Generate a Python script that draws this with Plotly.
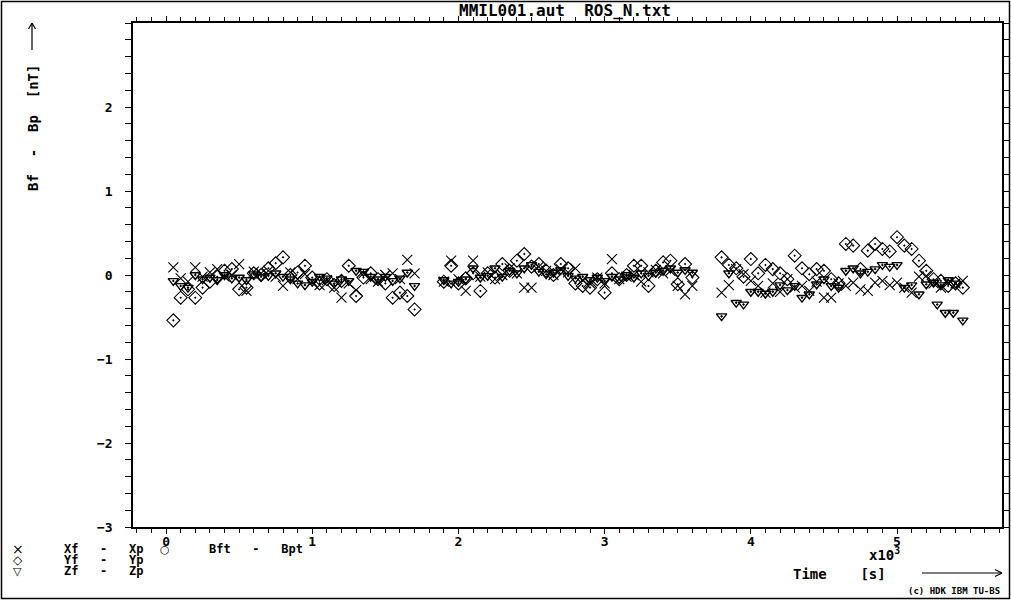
import plotly.graph_objects as go

# ---------------- data (time in s, differences in nT) ----------------
t_seg1 = [50, 100, 150, 200, 250, 300, 350, 400, 450, 500, 550, 600, 650, 700, 750, 800, 850,
          900, 950, 1000, 1050, 1100, 1150, 1200, 1250, 1300, 1350, 1400, 1450, 1500, 1550,
          1600, 1650, 1700]
t_seg2 = [1900, 1950, 2000, 2050, 2100, 2150, 2200, 2250, 2300, 2350, 2400, 2450, 2500, 2550,
          2600, 2650, 2700, 2750, 2800, 2850, 2900, 2950, 3000, 3050, 3100, 3150, 3200, 3250,
          3300, 3350, 3400, 3450, 3500, 3550, 3600]
t_seg3 = [3800, 3850, 3900, 3950, 4000, 4050, 4100, 4150, 4200, 4250, 4300, 4350, 4400, 4450,
          4500, 4550, 4600, 4650, 4700, 4750, 4800, 4850, 4900, 4950, 5000, 5050, 5100, 5150,
          5200, 5250, 5300, 5350, 5400, 5450]

dx_seg1 = [0.09, -0.04, -0.08, 0.09, -0.02, 0.03, 0.07, -0.02, 0.00, 0.13, -0.19, 0.04, 0.02,
           0.05, -0.02, -0.13, 0.03, -0.05, 0.01, -0.08, -0.12, -0.06, -0.15, -0.27, -0.10,
           -0.18, 0.02, -0.05, -0.08, 0.00, 0.02, -0.05, 0.18, 0.02]
dy_seg1 = [-0.54, -0.27, -0.17, -0.27, -0.15, -0.08, -0.02, 0.05, 0.07, -0.17, -0.15, 0.02,
           0.00, 0.08, 0.14, 0.21, 0.00, 0.03, 0.11, -0.03, -0.10, -0.05, -0.12, -0.07, 0.11,
           -0.25, -0.03, 0.02, -0.05, -0.10, -0.27, -0.21, -0.25, -0.41]
dz_seg1 = [-0.07, -0.13, -0.15, 0.00, -0.05, -0.03, -0.06, 0.00, -0.04, -0.03, -0.06, 0.01,
           -0.02, -0.01, 0.02, -0.02, -0.05, -0.10, -0.12, -0.08, -0.02, -0.04, -0.10, -0.05,
           -0.07, 0.05, 0.04, -0.02, -0.05, -0.02, -0.07, -0.04, 0.03, -0.13]

dx_seg2 = [-0.08, 0.17, -0.05, -0.19, 0.17, -0.02, 0.03, -0.05, 0.00, 0.08, 0.02, -0.15, -0.15,
           0.10, 0.05, 0.00, 0.07, 0.03, 0.08, -0.06, -0.10, -0.03, -0.10, 0.19, -0.05, -0.02,
           0.00, -0.08, 0.03, 0.06, 0.02, 0.05, -0.13, -0.23, -0.13]
dy_seg2 = [-0.08, 0.11, -0.10, -0.04, 0.02, -0.19, 0.02, -0.03, 0.13, 0.05, 0.17, 0.25, 0.10,
           0.13, 0.05, 0.00, 0.13, 0.08, -0.10, -0.13, -0.15, -0.05, -0.21, 0.02, -0.05, 0.00,
           0.11, 0.11, -0.13, 0.05, 0.15, 0.17, -0.11, 0.13, -0.03]
dz_seg2 = [-0.06, -0.10, -0.08, -0.05, 0.08, -0.03, -0.01, 0.08, -0.02, 0.05, 0.02, 0.08, 0.12,
           0.04, 0.01, 0.03, 0.06, -0.01, -0.04, -0.02, -0.06, -0.03, -0.07, -0.02, -0.05, 0.00,
           -0.03, 0.02, -0.01, 0.03, 0.05, 0.08, 0.03, 0.06, 0.03]

dx_seg3 = [-0.21, -0.12, 0.07, 0.01, -0.07, -0.13, -0.21, -0.10, -0.20, -0.05, -0.15, -0.13,
           -0.19, -0.08, -0.27, -0.27, -0.10, -0.13, -0.09, -0.17, -0.19, -0.09, -0.07, -0.12,
           -0.09, -0.15, -0.21, -0.02, -0.01, -0.10, -0.15, -0.09, -0.10, -0.07]
dy_seg3 = [0.21, 0.12, 0.08, -0.02, 0.19, 0.02, 0.12, 0.07, 0.02, -0.05, 0.23, 0.08, 0.01, 0.07,
           0.05, -0.05, -0.10, 0.37, 0.35, 0.07, 0.29, 0.37, 0.31, 0.28, 0.45, 0.35, 0.31, 0.17,
           0.05, -0.05, -0.07, -0.13, -0.10, -0.15]
dz_seg3 = [-0.49, 0.02, -0.33, -0.35, -0.20, -0.20, -0.22, -0.20, -0.12, -0.18, -0.13, -0.27,
           -0.23, -0.11, -0.05, -0.13, -0.15, 0.05, 0.08, 0.02, 0.04, 0.07, 0.12, 0.10, 0.12,
           -0.15, -0.12, -0.23, -0.11, -0.09, -0.12, -0.06, -0.10, -0.54]
t_z_extra = [5275, 5330, 5385]
dz_extra = [-0.35, -0.45, -0.45]

x_tick_vals = [0, 1000, 2000, 3000, 4000, 5000]
x_tick_text = ["0", "1", "2", "3", "4", "5"]
y_tick_vals = [-3, -2, -1, 0, 1, 2]

# ---------------- figure ----------------
W, H = 1011, 600
L, R, T, B = 133, 9, 23, 73
PW, PH = W - L - R, H - T - B
MONO = "DejaVu Sans Mono"


def P(px, py):
    return (px - L) / PW, (H - B - py) / PH


t_all = t_seg1 + t_seg2 + t_seg3

fig = go.Figure()
fig.add_trace(go.Scatter(
    x=t_all, y=dx_seg1 + dx_seg2 + dx_seg3, mode="markers", name="Xf - Xp",
    marker=dict(symbol="x-thin-open", size=10, color="black", line=dict(width=1.1, color="black"))))
fig.add_trace(go.Scatter(
    x=t_all, y=dy_seg1 + dy_seg2 + dy_seg3, mode="markers", name="Yf - Yp",
    marker=dict(symbol="diamond-open-dot", size=10, color="black", line=dict(width=1.1, color="black"))))
fig.add_trace(go.Scatter(
    x=t_all + t_z_extra, y=dz_seg1 + dz_seg2 + dz_seg3 + dz_extra, mode="markers", name="Zf - Zp",
    marker=dict(symbol="triangle-down-open-dot", size=9, color="black", line=dict(width=1.4, color="black"))))

axis_common = dict(showgrid=False, zeroline=False, showline=True, linecolor="black", linewidth=1.5,
                   mirror="ticks", ticks="outside", tickwidth=1.2, tickcolor="black", automargin=False,
                   tickfont=dict(family=MONO, size=13, color="black", weight="bold"))

fig.update_xaxes(range=[-226, 5718], tickmode="array", tickvals=x_tick_vals, ticktext=x_tick_text,
                 ticklen=5, ticklabelstandoff=-3,
                 minor=dict(dtick=100, tick0=0, ticks="outside", ticklen=4, tickwidth=1, tickcolor="black"),
                 **axis_common)
fig.update_yaxes(range=[-3, 3], tickmode="array", tickvals=y_tick_vals, ticklabelstandoff=10,
                 ticklen=6,
                 minor=dict(dtick=0.2, tick0=0, ticks="outside", ticklen=6, tickwidth=1, tickcolor="black"),
                 **axis_common)

ann = []


def text(px, py, s, size=13, xanchor="left", yanchor="middle", angle=0, bold=True, family=MONO):
    x, y = P(px, py)
    ann.append(dict(x=x, y=y, xref="paper", yref="paper", text=s, showarrow=False,
                    xanchor=xanchor, yanchor=yanchor, textangle=angle,
                    font=dict(family=family, size=size, color="black",
                              weight="bold" if bold else "normal")))


text(565, 10, "MMIL001.aut  ROS_N.txt", size=16, xanchor="center")
text(33, 63, "Bf  -  Bp  [nT]", size=14, xanchor="center", yanchor="top", angle=-90)

# legend block (bottom left)
text(18, 549, "×", size=14, xanchor="center", bold=False, family="DejaVu Sans")
text(18, 560, "◇", size=12, xanchor="center", bold=False, family="DejaVu Sans")
text(18, 571, "▽", size=11, xanchor="center", bold=False, family="DejaVu Sans")
text(62, 549, "Xf   -   Xp", size=12)
text(165, 549, "○", size=11, xanchor="center", bold=False, family="DejaVu Sans")
text(207, 549, "Bft   -   Bpt", size=12)
text(62, 560, "Yf   -   Yp", size=12)
text(62, 571, "Zf   -   Zp", size=12)

# x axis scale and title (bottom right)
text(867, 554, "x10<sup>3</sup>", size=14)
text(791, 574, "Time    [s]", size=14)
text(1002, 591, "(c) HDK IBM TU-BS", size=9, xanchor="right")

fig.update_layout(annotations=ann)

# frame and arrows
shapes = []


def line(p0, p1, w=1.2):
    x0, y0 = P(*p0)
    x1, y1 = P(*p1)
    shapes.append(dict(type="line", xref="paper", yref="paper", x0=x0, y0=y0, x1=x1, y1=y1,
                       line=dict(color="black", width=w)))


bx0, by0 = P(1.5, 598.5)
bx1, by1 = P(1009.5, 1.5)
shapes.append(dict(type="rect", xref="paper", yref="paper", x0=bx0, y0=by0, x1=bx1, y1=by1,
                   line=dict(color="black", width=1.5)))
# y arrow
line((32, 50), (32, 23))
line((28.5, 29), (32, 23))
line((35.5, 29), (32, 23))
# x arrow
line((922, 573), (1002, 573))
line((995, 569.5), (1002, 573))
line((995, 576.5), (1002, 573))

fig.update_layout(
    width=W, height=H, margin=dict(l=L, r=R, t=T, b=B, pad=0, autoexpand=False),
    paper_bgcolor="white", plot_bgcolor="white", showlegend=False, shapes=shapes,
)

fig.write_html("out.html", config={"displayModeBar": False},
               post_script="document.body.style.margin='0';document.body.style.overflow='hidden';")
